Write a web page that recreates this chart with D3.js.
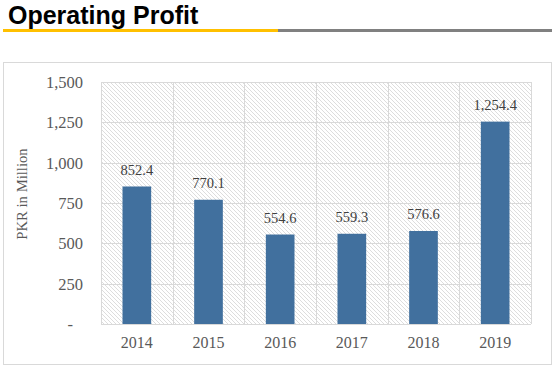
<!DOCTYPE html>
<html>
<head>
<meta charset="utf-8">
<script src="https://cdn.jsdelivr.net/npm/d3@7"></script>
<style>
  body { margin: 0; background: #fff; }
  svg { display: block; }
</style>
</head>
<body>
<svg id="chart"></svg>
<script>
"use strict";

const years = ['2014', '2015', '2016', '2017', '2018', '2019'];
const profit = [852.4, 770.1, 554.6, 559.3, 576.6, 1254.4];
const profitLabels = ['852.4', '770.1', '554.6', '559.3', '576.6', '1,254.4'];
const yTicks = [0, 250, 500, 750, 1000, 1250, 1500];
const yTickLabels = ['-', '250', '500', '750', '1,000', '1,250', '1,500'];

const W = 555, H = 370;
const plot = { left: 101, right: 531, top: 82, bottom: 324 };

let chart, x, y;

function chartInit() {
  chart = d3.select('#chart')
    .attr('width', W)
    .attr('height', H);

  x = d3.scaleBand()
    .domain(years)
    .range([plot.left, plot.right])
    .paddingInner(0.6)
    .paddingOuter(0.3);

  y = d3.scaleLinear()
    .domain([0, 1500])
    .range([plot.bottom, plot.top]);

  // wide downward diagonal hatch, like the excel fill
  const pat = chart.append('defs').append('pattern')
    .attr('id', 'hatch')
    .attr('patternUnits', 'userSpaceOnUse')
    .attr('width', 4)
    .attr('height', 4);
  pat.append('path')
    .attr('d', 'M-1,-1 L5,5 M-1,3 L1,5 M3,-1 L5,1')
    .attr('stroke', '#d4d4d4')
    .attr('stroke-width', 0.8);

  drawTitle();
  drawFrame();
  drawAxes();
  drawBars();
}

function drawTitle() {
  chart.append('text')
    .attr('x', 8)
    .attr('y', 24)
    .attr('font-family', '"Liberation Sans", Arial, sans-serif')
    .attr('font-weight', 'bold')
    .attr('font-size', 25)
    .attr('fill', '#000')
    .text('Operating Profit');

  chart.append('rect')
    .attr('x', 3).attr('y', 29)
    .attr('width', 275).attr('height', 3)
    .attr('fill', '#ffc000');
  chart.append('rect')
    .attr('x', 278).attr('y', 29)
    .attr('width', 274).attr('height', 3)
    .attr('fill', '#808080');
}

function drawFrame() {
  chart.append('rect')
    .attr('x', 3.5).attr('y', 62.5)
    .attr('width', 548).attr('height', 302)
    .attr('fill', '#fff')
    .attr('stroke', '#d9d9d9');

  chart.append('rect')
    .attr('x', plot.left).attr('y', plot.top)
    .attr('width', plot.right - plot.left)
    .attr('height', plot.bottom - plot.top)
    .attr('fill', 'url(#hatch)');

  // horizontal gridlines
  chart.selectAll('.hgrid').data(yTicks)
    .enter().append('line')
    .attr('class', 'hgrid')
    .attr('x1', plot.left).attr('x2', plot.right)
    .attr('y1', d => Math.round(y(d)) + 0.5)
    .attr('y2', d => Math.round(y(d)) + 0.5)
    .attr('stroke', '#d9d9d9');

  // vertical gridlines on category edges
  const step = x.step();
  const edges = d3.range(years.length + 1).map(i => plot.left + i * step);
  chart.selectAll('.vgrid').data(edges)
    .enter().append('line')
    .attr('class', 'vgrid')
    .attr('x1', d => Math.round(d) + 0.5).attr('x2', d => Math.round(d) + 0.5)
    .attr('y1', plot.top).attr('y2', plot.bottom)
    .attr('stroke', '#d9d9d9');
}

function drawAxes() {
  const serif = '"Liberation Serif", "Times New Roman", serif';

  const yAxis = chart.append('g')
    .attr('transform', `translate(${plot.left},0)`)
    .call(d3.axisLeft(y)
      .tickValues(yTicks)
      .tickFormat((d, i) => yTickLabels[i])
      .tickSize(0)
      .tickPadding(18));
  yAxis.select('.domain').remove();
  yAxis.selectAll('text')
    .attr('font-family', serif)
    .attr('font-size', 16.5)
    .attr('fill', '#595959')
    .attr('dy', '0.33em')
    .attr('dx', d => d === 0 ? -10 : 0);

  const xAxis = chart.append('g')
    .attr('transform', `translate(0,${plot.bottom})`)
    .call(d3.axisBottom(x).tickSize(0).tickPadding(13));
  xAxis.select('.domain').remove();
  xAxis.selectAll('text')
    .attr('font-family', serif)
    .attr('font-size', 16)
    .attr('fill', '#595959');

  chart.append('text')
    .attr('transform', 'translate(27,194) rotate(-90)')
    .attr('text-anchor', 'middle')
    .attr('font-family', serif)
    .attr('font-size', 14.7)
    .attr('fill', '#595959')
    .text('PKR in Million');
}

function drawBars() {
  chart.selectAll('.bar').data(profit)
    .enter().append('rect')
    .attr('class', 'bar')
    .attr('x', (d, i) => x(years[i]))
    .attr('y', d => y(d))
    .attr('width', x.bandwidth())
    .attr('height', d => y(0) - y(d))
    .attr('fill', '#41709e');

  chart.selectAll('.val').data(profit)
    .enter().append('text')
    .attr('class', 'val')
    .attr('x', (d, i) => x(years[i]) + x.bandwidth() / 2)
    .attr('y', d => y(d) - 11.5)
    .attr('text-anchor', 'middle')
    .attr('font-family', '"Liberation Serif", "Times New Roman", serif')
    .attr('font-size', 14.5)
    .attr('fill', '#404040')
    .text((d, i) => profitLabels[i]);
}

chartInit();
</script>
</body>
</html>
